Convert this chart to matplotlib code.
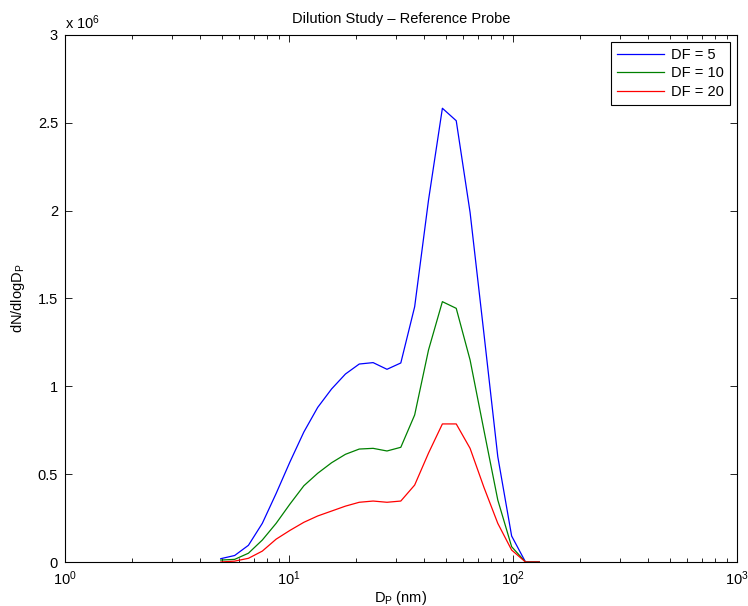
import numpy as np
import matplotlib
matplotlib.use("Agg")
import matplotlib.pyplot as plt
from matplotlib.ticker import FuncFormatter, LogLocator, MultipleLocator

plt.rcParams['font.family'] = ['Liberation Sans', 'DejaVu Sans']
plt.rcParams['mathtext.fontset'] = 'custom'
plt.rcParams['mathtext.rm'] = 'Liberation Sans'
plt.rcParams['mathtext.it'] = 'Liberation Sans'

# particle diameter (nm)
diameter = [4.96, 5.72, 6.59, 7.60, 8.76, 10.10, 11.65, 13.43, 15.49, 17.86,
            20.59, 23.74, 27.38, 31.56, 36.39, 41.96, 48.39, 55.79, 64.33,
            74.17, 85.52, 98.61, 113.7, 131.1]

# dN/dlogDp, in units of 1e6
df5 = [0.019, 0.037, 0.095, 0.22, 0.39, 0.57, 0.74, 0.88, 0.985, 1.07,
       1.127, 1.135, 1.097, 1.133, 1.453, 2.06, 2.583, 2.512, 1.99,
       1.30, 0.60, 0.148, 0.0, 0.0]
df10 = [0.011, 0.015, 0.05, 0.125, 0.22, 0.33, 0.434, 0.505, 0.565, 0.613,
        0.643, 0.647, 0.632, 0.653, 0.837, 1.207, 1.482, 1.444, 1.15,
        0.75, 0.353, 0.087, 0.0, 0.0]
df20 = [0.0, 0.005, 0.021, 0.062, 0.13, 0.18, 0.226, 0.262, 0.29, 0.318,
        0.34, 0.347, 0.34, 0.347, 0.438, 0.62, 0.786, 0.786, 0.647,
        0.425, 0.22, 0.068, 0.0, 0.0]

series = [("DF = 5", df5, (0, 0, 1)),
          ("DF = 10", df10, (0, 0.5, 0)),
          ("DF = 20", df20, (1, 0, 0))]

fig = plt.figure(figsize=(7.48, 6.06), dpi=100)
ax = fig.add_axes([65 / 748, 44 / 606, 672 / 748, 527 / 606])

for label, vals, color in series:
    ax.plot(diameter, np.array(vals) * 1e6, color=color, lw=0.9, label=label)

ax.set_xscale('log')
ax.set_xlim(1, 1000)
ax.set_ylim(0, 3e6)
ax.yaxis.set_major_locator(MultipleLocator(0.5e6))
ax.yaxis.set_major_formatter(FuncFormatter(lambda v, p: "%g" % (v / 1e6)))
ax.xaxis.set_major_locator(LogLocator(base=10, numticks=10))
ax.xaxis.set_minor_locator(LogLocator(base=10, subs=np.arange(2, 10), numticks=20))

ax.tick_params(which='both', direction='in', top=True, right=True,
               labelsize=10.5, width=0.6, colors='black')
ax.tick_params(which='major', length=5, pad=5)
ax.tick_params(which='minor', length=3)
for s in ax.spines.values():
    s.set_linewidth(0.8)

ax.text(0.0, 1.005, r"x 10$^{6}$", transform=ax.transAxes, fontsize=10.5,
        ha='left', va='bottom')
ax.set_title("Dilution Study \u2013 Reference Probe", fontsize=10.5, pad=9)
ax.set_xlabel(r"D$_\mathregular{P}$ (nm)", fontsize=10.5, labelpad=1)
ax.set_ylabel(r"dN/dlogD$_\mathregular{P}$", fontsize=10.5, labelpad=8)

leg = ax.legend(loc='upper right', fontsize=10.5, fancybox=False,
                edgecolor='black', framealpha=1, handlelength=3.2,
                borderaxespad=0.5, labelspacing=0.3, handletextpad=0.5)
leg.get_frame().set_linewidth(0.8)

fig.savefig("out.png", dpi=100)
